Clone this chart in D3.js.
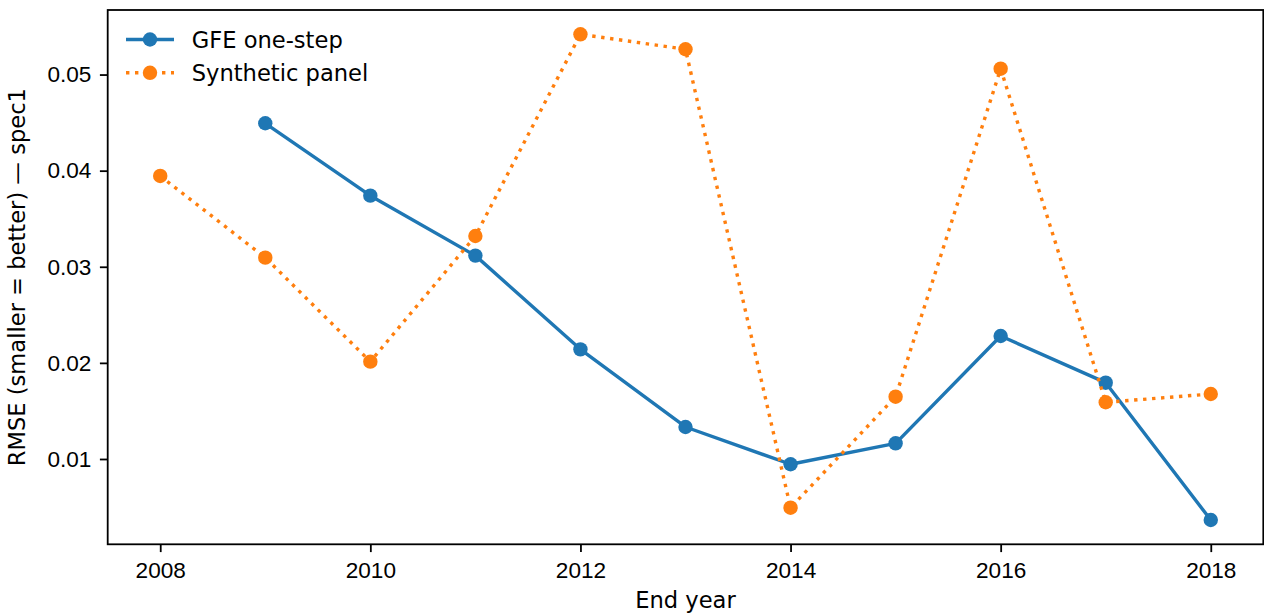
<!DOCTYPE html>
<html>
<head>
<meta charset="utf-8">
<script src="https://cdn.jsdelivr.net/npm/d3@7"></script>
<style>
  html, body { margin: 0; padding: 0; background: #fff; }
  svg { display: block; font-family: "DejaVu Sans", sans-serif; }
</style>
</head>
<body>
<svg id="chart" width="1264" height="614"></svg>
<script>
// End years on the x axis
const years = [2008, 2009, 2010, 2011, 2012, 2013, 2014, 2015, 2016, 2017, 2018];

// RMSE per end year (null = not available)
const gfeOneStep = [null, 0.04493, 0.03740, 0.03116, 0.02141, 0.01333, 0.00945, 0.01163, 0.02280, 0.01794, 0.00365];
const syntheticPanel = [0.03945, 0.03095, 0.02013, 0.03320, 0.05419, 0.05263, 0.00493, 0.01648, 0.05061, 0.01590, 0.01676];

const xTicks = [2008, 2010, 2012, 2014, 2016, 2018];
const yTicks = [0.01, 0.02, 0.03, 0.04, 0.05];

const seriesNames = ["GFE one-step", "Synthetic panel"];
const seriesColors = ["#1f77b4", "#ff7f0e"];

const W = 1264, H = 614;
const margin = { left: 107.7, top: 10, right: W - 1263.3, bottom: H - 544.3 };
const FONT = 22.6;
const LW = 3.4;
const R = 7.2;

const svg = d3.select("#chart");
const iw = W - margin.left - margin.right;
const ih = H - margin.top - margin.bottom;

// 5% padding on both axes around the data range
const xr = d3.extent(years), xpad = (xr[1] - xr[0]) * 0.05;
const allVals = gfeOneStep.concat(syntheticPanel).filter(v => v != null);
const yr = d3.extent(allVals), ypad = (yr[1] - yr[0]) * 0.05;

const x = d3.scaleLinear().domain([xr[0] - xpad, xr[1] + xpad]).range([margin.left, margin.left + iw]);
const y = d3.scaleLinear().domain([yr[0] - ypad, yr[1] + ypad]).range([margin.top + ih, margin.top]);

const tickLen = 7.8, tickPad = 9.5;

// Axes
const xAxis = d3.axisBottom(x).tickValues(xTicks).tickFormat(d3.format("d"))
  .tickSizeInner(tickLen).tickSizeOuter(0).tickPadding(tickPad);
const yAxis = d3.axisLeft(y).tickValues(yTicks).tickFormat(d3.format(".2f"))
  .tickSizeInner(tickLen).tickSizeOuter(0).tickPadding(tickPad - 1);

const gx = svg.append("g").attr("transform", `translate(0,${margin.top + ih})`).call(xAxis);
const gy = svg.append("g").attr("transform", `translate(${margin.left},0)`).call(yAxis);
[gx, gy].forEach(g => {
  g.select(".domain").remove();
  g.selectAll(".tick line").attr("stroke", "#000").attr("stroke-width", 1.8);
  g.selectAll(".tick text").attr("fill", "#000").style("font-size", FONT + "px");
});

// Series
const lineGen = d3.line()
  .defined(d => d.v != null)
  .x(d => x(d.year))
  .y(d => y(d.v));

const seriesData = [gfeOneStep, syntheticPanel].map((vals, i) => ({
  name: seriesNames[i],
  color: seriesColors[i],
  dash: i === 1 ? "3.4,5.6" : null,
  pts: years.map((yy, j) => ({ year: yy, v: vals[j] }))
}));

const plot = svg.append("g");
seriesData.forEach(s => {
  plot.append("path")
    .datum(s.pts)
    .attr("fill", "none")
    .attr("stroke", s.color)
    .attr("stroke-width", LW)
    .attr("stroke-dasharray", s.dash)
    .attr("stroke-linejoin", "round")
    .attr("d", lineGen);
  plot.selectAll(null)
    .data(s.pts.filter(d => d.v != null))
    .enter().append("circle")
    .attr("cx", d => x(d.year))
    .attr("cy", d => y(d.v))
    .attr("r", R)
    .attr("fill", s.color);
});

// Frame
svg.append("rect")
  .attr("x", margin.left).attr("y", margin.top)
  .attr("width", iw).attr("height", ih)
  .attr("fill", "none").attr("stroke", "#000").attr("stroke-width", 1.8);

// Axis labels
svg.append("text")
  .attr("x", margin.left + iw / 2).attr("y", 608)
  .attr("text-anchor", "middle")
  .style("font-size", FONT + "px")
  .text("End year");

svg.append("text")
  .attr("transform", `translate(25,${margin.top + ih / 2}) rotate(-90)`)
  .attr("text-anchor", "middle")
  .style("font-size", FONT + "px")
  .text("RMSE (smaller = better) — spec1");

// Legend
const legend = svg.append("g");
seriesData.forEach((s, i) => {
  const ly = 39.5 + i * 33.3;
  legend.append("line")
    .attr("x1", 126).attr("x2", 174).attr("y1", ly).attr("y2", ly)
    .attr("stroke", s.color).attr("stroke-width", LW)
    .attr("stroke-dasharray", s.dash);
  legend.append("circle").attr("cx", 150).attr("cy", ly).attr("r", R).attr("fill", s.color);
  legend.append("text")
    .attr("x", 191.7).attr("y", ly).attr("dy", "0.36em")
    .style("font-size", FONT + "px")
    .text(s.name);
});
</script>
</body>
</html>
